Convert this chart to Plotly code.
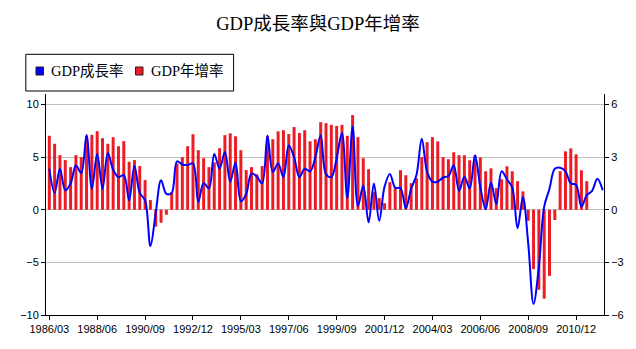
import plotly.graph_objects as go

# Quarter labels (year/month of quarter end), 1986/03 through 2012/03
years = list(range(1986, 2013))
quarter_months = [3, 6, 9, 12]
quarters = [f"{y}/{m:02d}" for y in years for m in quarter_months][:105]

# GDP年增率 (year-on-year, %), left axis
yoy = [
    7.03, 6.27, 5.19, 4.72, 4.05, 5.19, 5.00, 7.00, 7.12, 7.47,
    6.80, 6.27, 6.90, 6.04, 6.52, 4.56, 4.72, 4.15, 2.82, 0.92,
    -1.60, -1.23, -0.47, 1.65, 4.40, 5.00, 6.04, 7.18, 5.66, 4.90,
    4.05, 4.50, 5.85, 7.09, 7.26, 6.98, 5.66, 3.77, 4.05, 3.38,
    4.15, 7.00, 6.70, 7.45, 7.56, 7.19, 7.86, 7.29, 7.56, 6.51,
    6.70, 8.32, 8.23, 8.07, 7.97, 8.07, 7.03, 9.00, 6.90, 4.90,
    3.85, 1.70, 1.11, 0.62, 2.62, 2.12, 3.76, 3.28, 2.52, 3.00,
    5.00, 6.42, 6.90, 6.50, 5.00, 4.80, 5.46, 5.18, 5.18, 4.70,
    5.15, 4.98, 3.66, 3.94, 2.05, 2.90, 4.13, 3.66, 2.72, 1.75,
    -1.05, -5.65, -7.60, -8.45, -6.28, -0.97, 3.67, 5.55, 5.83, 5.27,
    3.75, 2.72,
]

# GDP成長率 (quarter growth, %), right axis
growth = [
    2.34, 0.96, 2.34, 1.11, 1.50, 2.52, 2.10, 4.26, 1.20, 3.18,
    1.20, 3.24, 2.28, 1.86, 1.98, 0.54, 2.49, 0.96, 0.54, -2.07,
    -0.18, 1.68, 0.90, 0.96, 2.76, 2.58, 2.55, 2.64, 0.45, 1.53,
    1.23, 3.18, 2.34, 3.30, 1.60, 2.70, 0.48, 0.90, 2.07, 1.89,
    1.50, 4.23, 2.16, 2.64, 1.86, 3.66, 3.00, 1.86, 2.34, 2.19,
    3.00, 4.25, 2.04, 1.86, 2.94, 4.38, 0.66, 4.74, 0.21, 1.38,
    -0.72, 1.50, -0.63, 1.32, 2.04, 1.26, 1.23, 0.09, 1.20, 1.98,
    4.05, 2.16, 1.60, 1.60, 1.84, 1.92, 2.54, 1.08, 1.88, 1.22,
    3.11, 1.29, 0.03, 1.56, 0.33, 2.19, 1.74, 1.26, -1.05, 0.73,
    -1.92, -5.37, -3.24, 0.18, 1.20, 2.34, 2.40, 2.19, 1.50, 1.42,
    0.18, 0.83, 1.08, 1.77, 1.11,
]

left_ticks = [-10, -5, 0, 5, 10]
right_ticks = [-6, -3, 0, 3, 6]
x_ticks = quarters[::9]

name_growth = "GDP成長率"
name_yoy = "GDP年增率"
title_text = "GDP成長率與GDP年增率"

BLUE = "#0000ff"
RED = "#ed1c24"
SERIF = "Liberation Serif, Noto Sans CJK TC, serif"
SANS = "Liberation Sans, Arial, sans-serif"

# Page geometry
W, H = 636, 349
ML, MR, MT, MB = 46, 32, 94, 34
PW, PH = W - ML - MR, H - MT - MB


def px(x):
    return (x - ML) / PW


def py(y):
    return (H - MB - y) / PH


fig = go.Figure()
fig.add_trace(go.Bar(
    x=quarters[:len(yoy)], y=yoy, name=name_yoy,
    marker=dict(color=RED, line=dict(width=0)),
    yaxis="y", showlegend=False,
))
fig.add_trace(go.Scatter(
    x=quarters[:len(growth)], y=growth, name=name_growth, mode="lines",
    line=dict(color=BLUE, width=2, shape="spline", smoothing=1),
    yaxis="y2", showlegend=False,
))

# Boxed legend above the plot, top-left
legend_shapes = [
    dict(type="rect", xref="paper", yref="paper",
         x0=px(25.8), x1=px(233.6), y0=py(91), y1=py(54.3),
         line=dict(color="black", width=1), fillcolor="white"),
    dict(type="rect", xref="paper", yref="paper",
         x0=px(36), x1=px(43.5), y0=py(75), y1=py(67),
         line=dict(color="#202020", width=1), fillcolor=BLUE),
    dict(type="rect", xref="paper", yref="paper",
         x0=px(135.5), x1=px(143), y0=py(75), y1=py(67),
         line=dict(color="#202020", width=1), fillcolor=RED),
]
legend_labels = [
    dict(text=name_growth, xref="paper", yref="paper", x=px(49), y=py(71.5),
         xanchor="left", yanchor="middle", showarrow=False,
         font=dict(family=SERIF, size=14.5, color="black")),
    dict(text=name_yoy, xref="paper", yref="paper", x=px(148.5), y=py(71.5),
         xanchor="left", yanchor="middle", showarrow=False,
         font=dict(family=SERIF, size=14.5, color="black")),
]

fig.update_layout(
    width=W, height=H,
    margin=dict(l=ML, r=MR, t=MT, b=MB, pad=0),
    paper_bgcolor="white", plot_bgcolor="white",
    title=dict(text=title_text, x=0.5, xref="container", xanchor="center",
               y=1 - 24 / H, yref="container", yanchor="middle",
               font=dict(family=SERIF, size=18.5, color="black")),
    bargap=0.44,
    showlegend=False,
    shapes=legend_shapes,
    annotations=legend_labels,
    xaxis=dict(
        type="category", categoryorder="array", categoryarray=quarters,
        range=[-0.62, 104.24],
        tickmode="array", tickvals=x_ticks, ticktext=x_ticks,
        ticks="outside", ticklen=4, tickcolor="black",
        showline=True, linecolor="black", linewidth=1,
        showgrid=False, zeroline=False,
        tickfont=dict(family=SANS, size=11, color="black"),
    ),
    yaxis=dict(
        range=[-10, 11], tickmode="array", tickvals=left_ticks,
        ticks="outside", ticklen=4, tickcolor="black",
        showline=True, linecolor="black", linewidth=1,
        showgrid=True, gridcolor="#c0c0c0", gridwidth=1, zeroline=False,
        tickfont=dict(family=SANS, size=11, color="black"),
    ),
    yaxis2=dict(
        range=[-6, 6.6], tickmode="array", tickvals=right_ticks,
        overlaying="y", side="right",
        ticks="outside", ticklen=4, tickcolor="black",
        showline=True, linecolor="black", linewidth=1,
        showgrid=False, zeroline=False,
        tickfont=dict(family=SANS, size=11, color="black"),
    ),
)

fig.write_html("out.html")
